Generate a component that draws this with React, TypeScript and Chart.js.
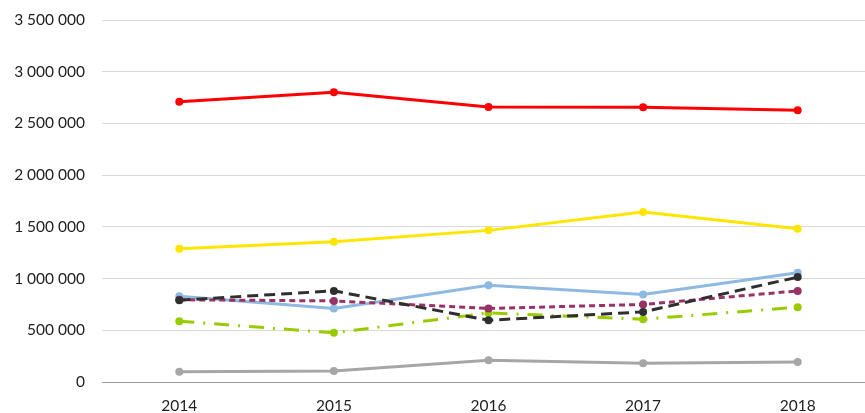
import React, { useEffect, useRef } from "react";
import { Chart, registerables } from "chart.js";

Chart.register(...registerables);

const categories = ["2014", "2015", "2016", "2017", "2018"];

const redSeries = [2709000, 2802000, 2660000, 2657000, 2628000];
const yellowSeries = [1288000, 1356000, 1466000, 1643000, 1482000];
const blueSeries = [830000, 711000, 936000, 846000, 1056000];
const blackSeries = [791000, 881000, 597000, 678000, 1014000];
const purpleSeries = [795000, 784000, 711000, 750000, 881000];
const greenSeries = [588000, 475000, 668000, 607000, 723000];
const graySeries = [100000, 106000, 210000, 181000, 194000];

const yMin = 0;
const yMax = 3500000;
const yStep = 500000;

const fmt = (v: number) => String(Math.round(v)).replace(/\B(?=(\d{3})+(?!\d))/g, " ");

export default function App() {
  const ref = useRef<HTMLCanvasElement | null>(null);

  useEffect(() => {
    if (!ref.current) return;
    const mk = (label: string, data: number[], color: string, dash: number[] = []) => ({
      label,
      data,
      borderColor: color,
      backgroundColor: color,
      borderWidth: 3,
      borderDash: dash,
      pointRadius: 4,
      pointBorderWidth: 0,
      pointBackgroundColor: color,
      tension: 0,
      fill: false,
    });
    const chart = new Chart(ref.current, {
      type: "line",
      data: {
        labels: categories,
        datasets: [
          mk("black", blackSeries, "#2f2f2f", [11, 6]),
          mk("purple", purpleSeries, "#993366", [6, 4]),
          mk("green", greenSeries, "#99cc00", [15, 9, 2, 9]),
          mk("blue", blueSeries, "#8db9e2"),
          mk("yellow", yellowSeries, "#ffe600"),
          mk("red", redSeries, "#ff0000"),
          mk("gray", graySeries, "#a6a6a6"),
        ],
      },
      options: {
        responsive: false,
        animation: false,
        layout: { padding: { top: 20, right: 0, left: 0, bottom: 0 } },
        plugins: { legend: { display: false }, tooltip: { enabled: false } },
        scales: {
          x: {
            offset: true,
            grid: { display: false, drawTicks: false },
            border: { display: true, color: "#9a9a9a", width: 1 },
            ticks: {
              padding: 15,
              color: "#1f1f1f",
              font: { family: "Lato", size: 15.5 },
              maxRotation: 0,
            },
            afterFit: (s: any) => {
              s.height = 31;
            },
          },
          y: {
            min: yMin,
            max: yMax,
            grid: { color: "#d9d9d9", lineWidth: 1, drawTicks: false },
            border: { display: false },
            ticks: {
              stepSize: yStep,
              padding: 17,
              color: "#1f1f1f",
              font: { family: "Lato", size: 15.5 },
              callback: (v: any) => fmt(Number(v)),
            },
            afterFit: (s: any) => {
              s.width = 102;
              s.paddingTop = 0;
              s.paddingBottom = 0;
            },
          },
        },
      },
    });
    return () => chart.destroy();
  }, []);

  return (
    <div style={{ position: "fixed", left: 0, top: 0, width: 865, height: 413, overflow: "hidden", background: "#fff" }}>
      <canvas ref={ref} width={879} height={413} style={{ display: "block" }} />
    </div>
  );
}
